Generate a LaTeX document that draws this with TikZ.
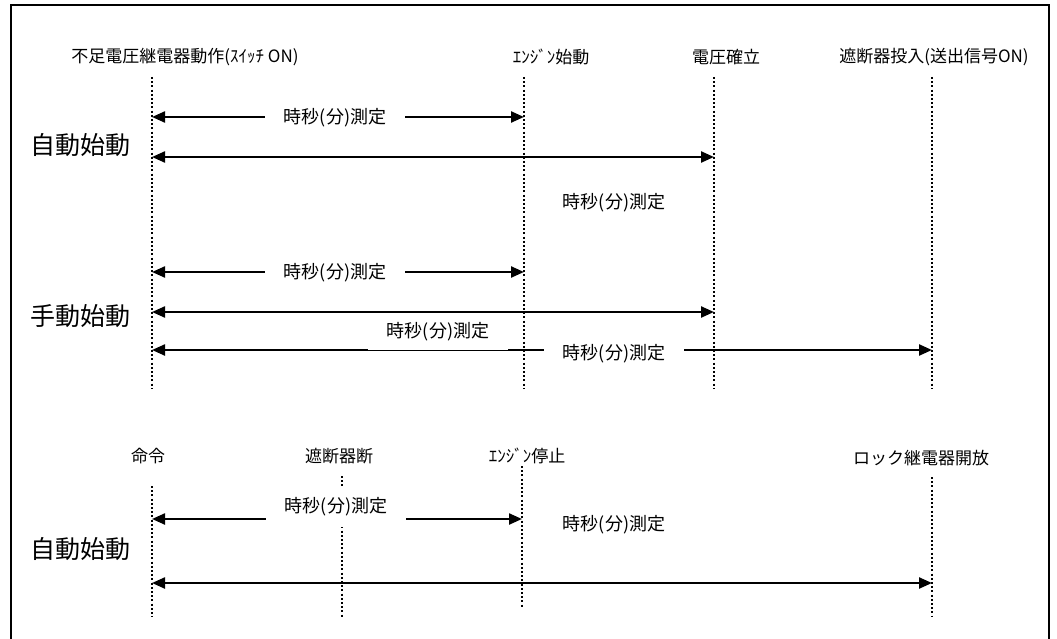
\documentclass[tikz,border=0pt]{standalone}
\usepackage{fontspec}
\setmainfont{Noto Sans CJK JP}
\usetikzlibrary{arrows.meta}
\tikzset{
  vline/.style={line width=2pt, dash pattern=on 2pt off 2.2pt},
  meas/.style={{Triangle[length=13pt,width=11pt]}-{Triangle[length=13pt,width=11pt]}, line width=2.3pt},
  tbox/.style={fill=white, minimum width=140pt, minimum height=39pt, inner sep=0pt, font=\fontsize{18}{20}\selectfont},
  evt/.style={inner sep=0pt, font=\fontsize{17}{19}\selectfont},
  mode/.style={inner sep=0pt, font=\fontsize{25}{28}\selectfont}
}
\begin{document}
\begin{tikzpicture}[x=1pt, y=-1pt]
  \useasboundingbox (0,0) rectangle (1057,639);
  \draw[line width=2pt] (11,660) -- (11,5) -- (1049,5) -- (1049,660);

  \node[evt] (uv) at (185,57) {不足電圧継電器動作(ｽｲｯﾁ ON)};
  \node[evt] (es) at (551,57) {ｴﾝｼﾞﾝ始動};
  \node[evt] (vb) at (726,57) {電圧確立};
  \node[evt] (cbon) at (934,57) {遮断器投入(送出信号ON)};
  \node[evt] (cmd) at (148,456) {命令};
  \node[evt] (cboff) at (339,456) {遮断器断};
  \node[evt] (estop) at (527,456) {ｴﾝｼﾞﾝ停止};
  \node[evt] (lock) at (921,458) {ロック継電器開放};

  \node[mode] (auto1) at (80,145) {自動始動};
  \node[mode] (manual) at (80,316) {手動始動};
  \node[mode] (auto2) at (80,549) {自動始動};

  \foreach \n/\x/\ya/\yb in {v1/152/77/388, v2/524/77/388, v3/714/77/388, v4/932/77/388,
                             w1/152/486/617, w2/342/476/617, w3/522/466/608, w4/932/477/617} {
    \coordinate (\n t) at (\x,\ya);
    \coordinate (\n b) at (\x,\yb);
    \draw[vline] (\n t) -- (\n b);
  }

  \foreach \r/\y in {r1/117, r2/157, r3/272, r4/312, r5/350, r6/519, r7/583}
    \coordinate (\r) at (0,\y);

  \draw[meas] (v1t |- r1) -- (v2t |- r1);
  \draw[meas] (v1t |- r2) -- (v3t |- r2);
  \draw[meas] (v1t |- r3) -- (v2t |- r3);
  \draw[meas] (v1t |- r4) -- (v3t |- r4);
  \draw[meas] (v1t |- r5) -- (v4t |- r5);
  \draw[meas] (w1t |- r6) -- (w3t |- r6);
  \draw[meas] (w1t |- r7) -- (w4t |- r7);

  \node[tbox] (t1) at (335,118) {時秒(分)測定};
  \node[tbox] (t2) at (614,203) {時秒(分)測定};
  \node[tbox] (t3) at (335,273) {時秒(分)測定};
  \node[tbox, minimum height=36pt] (t4) at (438,332) {時秒(分)測定};
  \node[tbox] (t5) at (614,354) {時秒(分)測定};
  \node[tbox] (t6) at (336,507) {時秒(分)測定};
  \node[tbox] (t7) at (614,525) {時秒(分)測定};
\end{tikzpicture}
\end{document}
